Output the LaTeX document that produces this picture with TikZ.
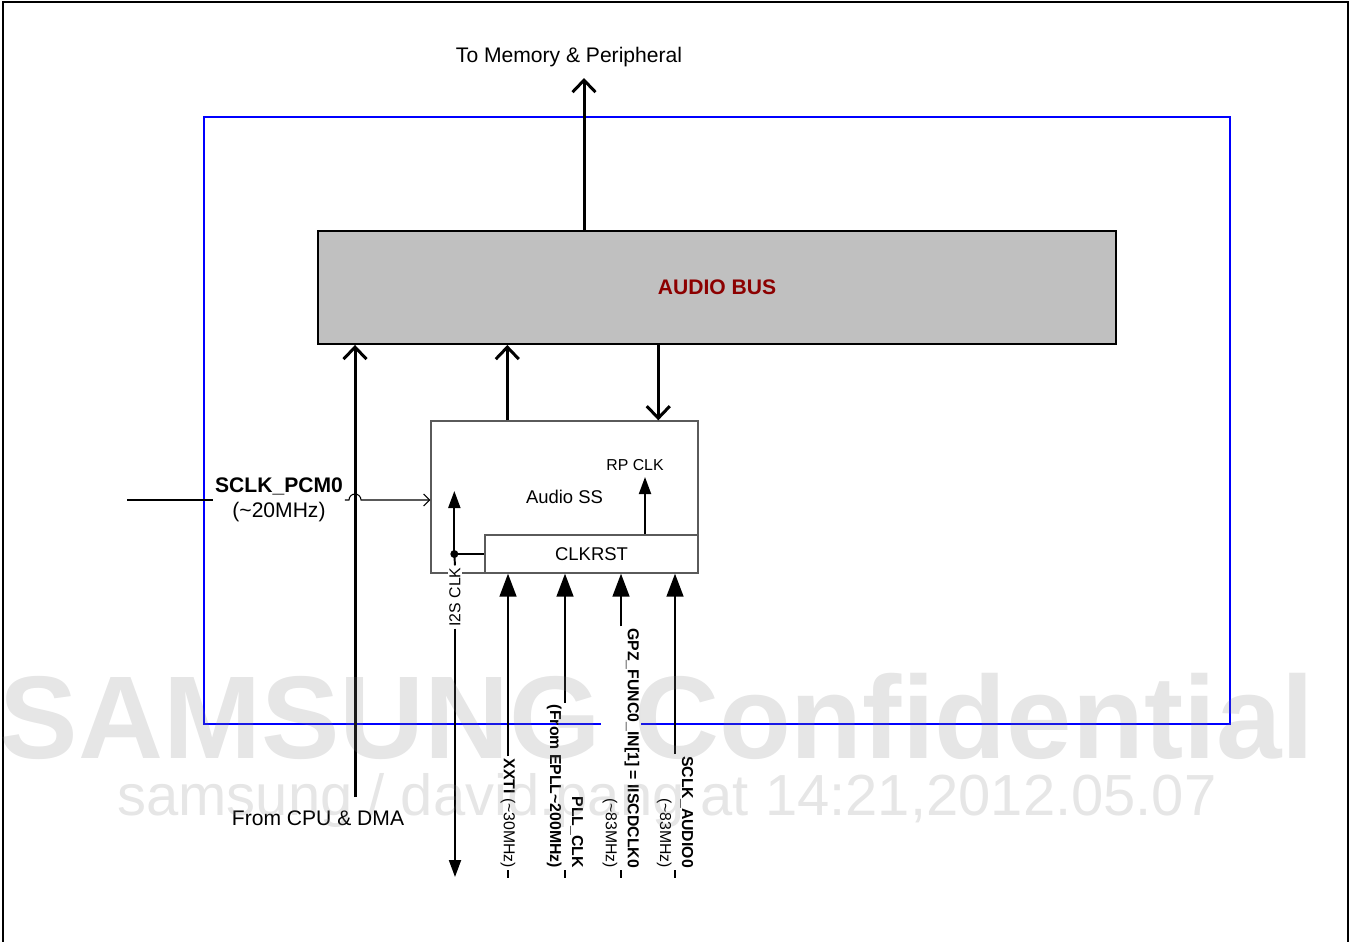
\documentclass[tikz,border=0pt]{standalone}
\usepackage{fontspec}
\setmainfont{Liberation Sans}
\usepackage{tikz}
\usetikzlibrary{arrows.meta}
\definecolor{busgray}{HTML}{C0C0C0}
\definecolor{busred}{HTML}{8C0000}
\definecolor{frameblue}{HTML}{0000FF}
\definecolor{boxgray}{HTML}{5A5A5A}
\definecolor{wmgray}{HTML}{808080}
\tikzset{
  busbox/.style={draw,line width=1.1pt,fill=busgray,minimum width=15.96cm,minimum height=2.26cm,inner sep=0pt,
    text=busred,font=\bfseries\fontsize{12}{14}\selectfont},
  ssbox/.style={draw=boxgray,line width=0.8pt,inner sep=0pt,font=\fontsize{10.5}{12.6}\selectfont},
  busarrow/.style={line width=1.7pt,-{Straight Barb[length=0.24cm,width=0.46cm]}},
  clkarrow/.style={line width=1.1pt,-{Triangle[length=0.34cm,width=0.24cm]}},
  inarrow/.style={line width=0.9pt,-{Triangle[length=0.46cm,width=0.34cm]}},
  thinline/.style={line width=0.6pt},
  smalllbl/.style={inner sep=1pt,font=\fontsize{9}{11}\selectfont},
  inlbl/.style={rotate=-90,anchor=east,align=right,inner sep=1pt,font=\fontsize{9}{12.5}\selectfont},
  wmark/.style={text=wmgray,text opacity=0.2,inner sep=0pt,anchor=base}
}

\begin{document}
\begin{tikzpicture}[x=0.02cm,y=-0.02cm,font=\fontsize{12}{14.5}\selectfont]
\useasboundingbox (0,0) rectangle (1354,941);
% outer frame and audio block
\draw[line width=1.5pt] (3,945) -- (3,2) -- (1348,2) -- (1348,945);
\draw[frameblue,line width=1.1pt] (204,117) rectangle (1230,724);

\node[busbox] (bus) at (717,287.5) {AUDIO BUS};
\node[ssbox,minimum width=5.34cm,minimum height=3.04cm] (audioss) at (564.5,497) {Audio SS};
\node[ssbox,minimum width=4.26cm,minimum height=0.76cm] (clkrst) at (591.5,554) {CLKRST};

% bus connections
\coordinate (mem) at (584,78);
\draw[busarrow] (bus.north -| mem) -- (mem);
\node (memlbl) at (569,57) {To Memory \& Peripheral};
\coordinate (cpu) at (355,797);
\draw[busarrow] (cpu) -- (cpu |- bus.south);
\node (cpulbl) at (318,818) {From CPU \& DMA};
\coordinate (ssout) at ([xshift=1.54cm]audioss.north west);
\draw[busarrow] (ssout) -- (ssout |- bus.south);
\coordinate (ssin) at ([xshift=4.56cm]audioss.north west);
\draw[busarrow] (ssin |- bus.south) -- (ssin);

% SCLK_PCM0 input, hopping over the CPU line
\coordinate (pcmin) at (127,500);
\node[align=center,inner sep=1pt] (pcm) at (279,500) {\textbf{SCLK\_PCM0}\\(\textasciitilde20MHz)};
\coordinate (hop) at (cpu |- pcm.east);
\draw[thinline] (pcmin) -- (pcm.west);
\draw[thinline,-{Straight Barb[length=0.12cm,width=0.24cm]}] (pcm.east) -- ([xshift=-0.12cm]hop)
  arc[start angle=180,end angle=0,radius=0.12cm] -- (pcm.east -| audioss.west);

% I2S CLK
\coordinate (i2s) at ([xshift=-0.6cm]clkrst.west);
\coordinate (i2stop) at ([yshift=1.26cm]i2s);
\coordinate (i2sbot) at (455,877);
\draw[thinline] (i2s) -- (clkrst.west);
\draw[clkarrow] (i2s) -- (i2stop);
\node[smalllbl,rotate=90,fill=white] (i2slbl) at (455,597) {I2S CLK};
\draw[line width=1.1pt] (i2s) -- (i2slbl.east);
\draw[clkarrow] (i2slbl.west) -- (i2sbot);
\fill (i2s) circle (0.08cm);

% RP CLK
\coordinate (rp) at (645,477);
\draw[clkarrow] (rp |- clkrst.north) -- (rp);
\node[smalllbl] (rplbl) at (635,465) {RP CLK};

% clock inputs to CLKRST
\node[inlbl] (xxti) at (508,870) {\textbf{XXTI} (\textasciitilde30MHz)};
\draw[inarrow] (xxti.west) -- (xxti.west |- clkrst.south);
\draw[thinline] (xxti.east) -- ++(0,8);
\node[inlbl] (pll) at (565,870) {\textbf{PLL\_CLK}\\\textbf{(From EPLL\textasciitilde200MHz)}};
\draw[inarrow] (pll.west) -- (pll.west |- clkrst.south);
\draw[thinline] (pll.east) -- ++(0,8);
\node[inlbl,fill=white] (gpz) at (621,870) {\textbf{GPZ\_FUNC0\_IN[1] = IISCDCLK0}\\(\textasciitilde83MHz)};
\draw[inarrow] (gpz.west) -- (gpz.west |- clkrst.south);
\draw[thinline] (gpz.east) -- ++(0,8);
\node[inlbl] (sclkaud) at (675,870) {\textbf{SCLK\_AUDIO0}\\(\textasciitilde83MHz)};
\draw[inarrow] (sclkaud.west) -- (sclkaud.west |- clkrst.south);
\draw[thinline] (sclkaud.east) -- ++(0,8);

% watermark
\node[wmark,font=\bfseries\fontsize{67}{67}\selectfont] (wmtop) at (657,758) {SAMSUNG Confidential};
\node[wmark,font=\fontsize{33}{33}\selectfont] (wmbot) at (667,815) {samsung / david.pang at 14:21,2012.05.07};
\end{tikzpicture}
\end{document}
